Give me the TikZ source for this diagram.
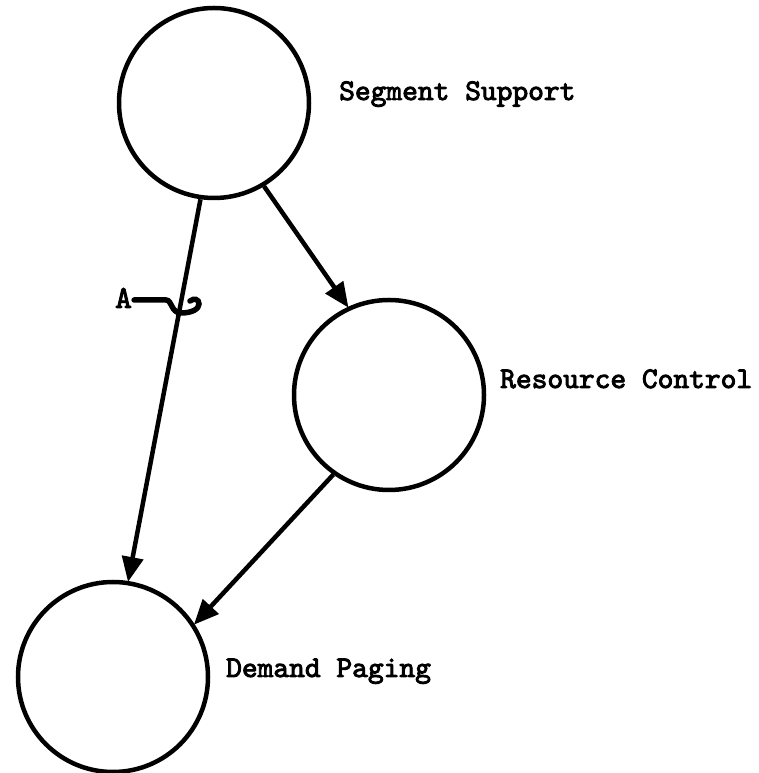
\documentclass[tikz,border=0pt]{standalone}
\usepackage{fontspec}
\usetikzlibrary{arrows.meta}
\newfontfamily\twfont{lmmono10-regular.otf}[RawFeature={embolden=3}]
\tikzset{
  module/.style={circle, draw, line width=4.5pt, minimum size=190pt, inner sep=0pt},
  lbl/.style={anchor=base west, inner sep=0pt, font=\twfont\fontsize{30}{36}\selectfont},
  dep/.style={line width=4.5pt, -{Triangle[length=25pt,width=21pt]}, shorten >=-1pt},
}
\begin{document}
\begin{tikzpicture}[x=1pt,y=1pt]
\useasboundingbox (0,0) rectangle (759,773);

% modules
\node[module] (seg) at (214,670) {};
\node[module] (res) at (389,378) {};
\node[module] (dem) at (113,96) {};

% module names
\node[lbl] (segl) at (339,673) {Segment Support};
\node[lbl] (resl) at (500,385) {Resource Control};
\node[lbl] (deml) at (226,96) {Demand Paging};

% dependencies
\draw[dep] (seg.262) -- (dem.81);
\draw[dep] (seg.301) -- (res.115);
\draw[dep] (res.235) -- (dem.33);

% marker A on the left dependency
\node[anchor=base, inner sep=0pt, font=\twfont\fontsize{32}{36}\selectfont] (amark) at (123.5,465) {A};
\coordinate (hookend) at (190,472);
\draw[line width=5.5pt, line cap=round]
  (amark.east |- 0,473) ++(2,0) -- (166,473)
  .. controls (172,473) and (171,460) .. (181,460)
  .. controls (192,460) and (199,464) .. (199,469)
  .. controls (199,474) and (194,475) .. (hookend);
\end{tikzpicture}
\end{document}
